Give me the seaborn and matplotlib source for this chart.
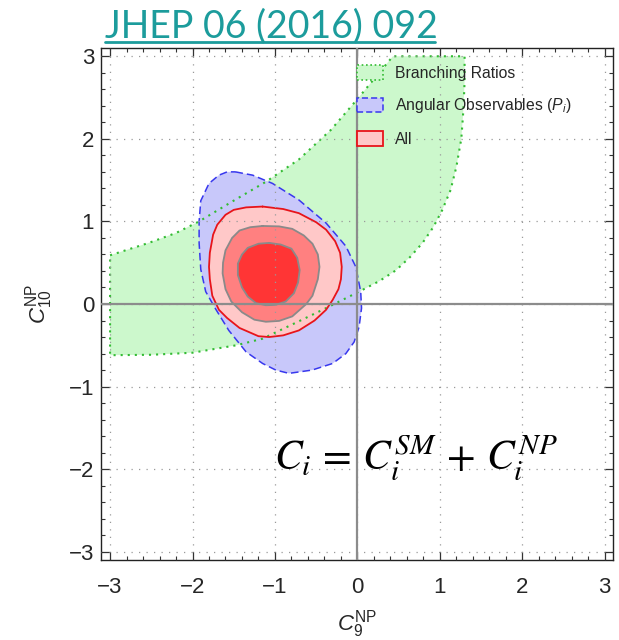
import matplotlib
matplotlib.use("Agg")
import numpy as np
import pandas as pd
import seaborn as sns
import matplotlib.pyplot as plt
from matplotlib.patches import Patch
from matplotlib.lines import Line2D
from matplotlib.ticker import MultipleLocator, FixedLocator

# ---------------- data ----------------
# Branching ratios allowed band (C9^NP, C10^NP)
br_c9 = [-3.00, -2.75, -2.53, -2.20, -1.92, -1.52, -1.11, -0.71, -0.32, -0.01, 0.265, 0.43,
         1.30, 1.30, 1.29, 1.28, 1.26, 1.20, 1.13, 1.03, 0.92, 0.79, 0.64, 0.47, 0.27, 0.06,
         -0.34, -0.67, -0.90, -1.15, -1.47, -2.00, -2.50, -3.00]
br_c10 = [0.59, 0.67, 0.74, 0.86, 1.00, 1.24, 1.48, 1.75, 2.11, 2.47, 2.80, 3.00,
          3.00, 2.70, 2.45, 2.27, 2.00, 1.66, 1.38, 1.14, 0.93, 0.74, 0.57, 0.41, 0.28, 0.17,
          -0.03, -0.19, -0.30, -0.42, -0.50, -0.59, -0.615, -0.62]

# Angular observables region
ang_c9 = [-1.48, -1.27, -1.03, -0.71, -0.38, -0.14, -0.02, 0.04, 0.05, 0.02, -0.04, -0.14,
          -0.30, -0.55, -0.83, -0.99, -1.15, -1.35, -1.56, -1.72, -1.84, -1.90, -1.92, -1.92,
          -1.90, -1.80, -1.68, -1.58]
ang_c10 = [1.60, 1.56, 1.46, 1.26, 0.98, 0.70, 0.45, 0.15, -0.05, -0.28, -0.46, -0.60,
           -0.72, -0.80, -0.84, -0.80, -0.72, -0.58, -0.32, -0.06, 0.15, 0.42, 0.74, 1.00,
           1.25, 1.46, 1.56, 1.60]

# Combined fit, outer / middle / inner contours
all1_c9 = [-1.15, -0.90, -0.71, -0.50, -0.38, -0.27, -0.21, -0.19, -0.20, -0.23, -0.30, -0.38,
           -0.52, -0.71, -0.90, -1.07, -1.20, -1.43, -1.58, -1.68, -1.76, -1.79, -1.80, -1.79,
           -1.75, -1.70, -1.60, -1.50, -1.35]
all1_c10 = [1.18, 1.15, 1.10, 0.99, 0.90, 0.76, 0.62, 0.45, 0.30, 0.18, 0.05, -0.07,
            -0.20, -0.32, -0.38, -0.40, -0.39, -0.29, -0.17, -0.07, 0.10, 0.30, 0.45, 0.62,
            0.84, 0.96, 1.08, 1.14, 1.17]

all2_c9 = [-1.15, -0.95, -0.79, -0.65, -0.545, -0.48, -0.46, -0.48, -0.545, -0.62, -0.79, -0.95,
           -1.11, -1.25, -1.40, -1.53, -1.60, -1.635, -1.63, -1.60, -1.52, -1.43, -1.30]
all2_c10 = [0.945, 0.94, 0.91, 0.83, 0.73, 0.60, 0.45, 0.30, 0.10, 0.00, -0.15, -0.205,
            -0.215, -0.19, -0.10, 0.03, 0.18, 0.37, 0.50, 0.65, 0.80, 0.89, 0.93]

all3_c9 = [-1.07, -0.93, -0.80, -0.73, -0.70, -0.72, -0.77, -0.87, -0.99, -1.11, -1.23, -1.33,
           -1.40, -1.45, -1.45, -1.40, -1.33, -1.20]
all3_c10 = [0.74, 0.72, 0.67, 0.56, 0.41, 0.26, 0.13, 0.03, -0.01, -0.015, 0.01, 0.09,
            0.20, 0.35, 0.49, 0.60, 0.68, 0.73]

ticks = [-3, -2, -1, 0, 1, 2, 3]
tick_labels = ["\u22123", "\u22122", "\u22121", "0", "1", "2", "3"]
legend_labels = ["Branching Ratios", r"Angular Observables ($P_i$)", "All"]
title_text = "JHEP 06 (2016) 092"
equation = r"$C_i\,=\,C_i^{SM}\,+\,C_i^{NP}$"

# ---------------- style ----------------
sns.set_theme(style="ticks")
plt.rcParams["font.family"] = ["Liberation Sans", "DejaVu Sans"]
plt.rcParams["mathtext.fontset"] = "custom"
plt.rcParams["mathtext.rm"] = "Liberation Sans"
plt.rcParams["mathtext.it"] = "Liberation Sans:italic"
plt.rcParams["mathtext.bf"] = "Liberation Sans:bold"

GREEN_F, GREEN_E = "#ccf8cc", "#33bb33"
BLUE_F, BLUE_E = "#c8c8fa", "#3838ee"
PINK_F, RED_E = "#ffc8c8", "#e8141a"
MID_F, IN_F, GRAY_E = "#ff8080", "#ff3535", "#8a8a8a"

fig = plt.figure(figsize=(6.19, 6.40), dpi=100)
ax = fig.add_axes([101 / 619, 80 / 640, 512 / 619, 512 / 640])

def closed(a):
    return list(a) + [a[0]]

# fills
ax.fill(br_c9, br_c10, facecolor=GREEN_F, edgecolor="none", zorder=1)
ax.fill(ang_c9, ang_c10, facecolor=BLUE_F, edgecolor="none", zorder=1.1)
ax.fill(all1_c9, all1_c10, facecolor=PINK_F, edgecolor="none", zorder=1.2)
ax.fill(all2_c9, all2_c10, facecolor=MID_F, edgecolor="none", zorder=1.3)
ax.fill(all3_c9, all3_c10, facecolor=IN_F, edgecolor="none", zorder=1.4)

# outlines via seaborn
sns.lineplot(x=closed(ang_c9), y=closed(ang_c10), sort=False, estimator=None, ax=ax,
             color=BLUE_E, linewidth=1.1, linestyle=(0, (5, 2.6)), zorder=2)
sns.lineplot(x=closed(br_c9), y=closed(br_c10), sort=False, estimator=None, ax=ax,
             color=GREEN_E, linewidth=1.5, linestyle=(0, (1.0, 2.4)), zorder=2.1)
sns.lineplot(x=closed(all1_c9), y=closed(all1_c10), sort=False, estimator=None, ax=ax,
             color=RED_E, linewidth=1.3, zorder=2.2)
sns.lineplot(x=closed(all2_c9), y=closed(all2_c10), sort=False, estimator=None, ax=ax,
             color=GRAY_E, linewidth=1.3, zorder=2.2)
sns.lineplot(x=closed(all3_c9), y=closed(all3_c10), sort=False, estimator=None, ax=ax,
             color=GRAY_E, linewidth=1.3, zorder=2.2)

# axes lines through origin
ax.axhline(0, color="#8c8c8c", linewidth=1.6, zorder=2.6)
ax.axvline(0, color="#8c8c8c", linewidth=1.6, zorder=2.6)

ax.set_xlim(-3.11, 3.1)
ax.set_ylim(-3.1, 3.1)

ax.xaxis.set_major_locator(FixedLocator(ticks))
ax.yaxis.set_major_locator(FixedLocator(ticks))
ax.set_xticklabels(tick_labels)
ax.set_yticklabels(tick_labels)
ax.xaxis.set_minor_locator(MultipleLocator(0.2))
ax.yaxis.set_minor_locator(MultipleLocator(0.2))
ax.tick_params(which="major", direction="in", top=True, right=True, length=6,
               width=0.9, color="#333333", labelsize=16)
ax.tick_params(which="minor", direction="in", top=True, right=True, length=3.2,
               width=0.8, color="#333333")
ax.tick_params(axis="x", which="major", pad=12)
ax.tick_params(axis="y", which="major", pad=5)

ax.grid(True, which="major", color="#9a9a9a", linestyle=(0, (1, 5)), linewidth=0.9)
ax.set_axisbelow(False)
for s in ax.spines.values():
    s.set_color("#222222")
    s.set_linewidth(1.0)

ax.set_xlabel(r"$C_9^{\rm NP}$", fontsize=16)
ax.set_ylabel(r"$C_{10}^{\rm NP}$", fontsize=16)
ax.xaxis.set_label_coords(0.5, -0.093)
ax.yaxis.set_label_coords(-0.09, 0.5)

# legend
handles = [
    Patch(facecolor=GREEN_F, edgecolor=GREEN_E, linestyle=(0, (1, 1.6)), linewidth=1.2),
    Patch(facecolor=BLUE_F, edgecolor=BLUE_E, linestyle=(0, (4, 2)), linewidth=1.1),
    Patch(facecolor=PINK_F, edgecolor=RED_E, linewidth=1.3),
]
leg = ax.legend(handles, legend_labels, loc="upper left", bbox_to_anchor=(0.5006, 0.966),
                frameon=False, fontsize=11.3, handlelength=1.62, handleheight=1.06,
                labelspacing=0.98, handletextpad=0.8, borderpad=0, borderaxespad=0)

# equation
ax.text(0.615, 0.176, equation, transform=ax.transAxes, ha="center", va="baseline",
        fontsize=30, math_fontfamily="stix", color="black", zorder=5)

# title (teal, underlined)
t = fig.text(105 / 619, 1 - 37.5 / 640, title_text, ha="left", va="baseline",
             fontsize=27, color="#1c9c9c", family=["Lato", "DejaVu Sans"])
fig.add_artist(Line2D([105 / 619, 435 / 619], [1 - 41.7 / 640, 1 - 41.7 / 640],
                      color="#1c9c9c", linewidth=2.0, transform=fig.transFigure))

fig.savefig("out.png", dpi=100)
